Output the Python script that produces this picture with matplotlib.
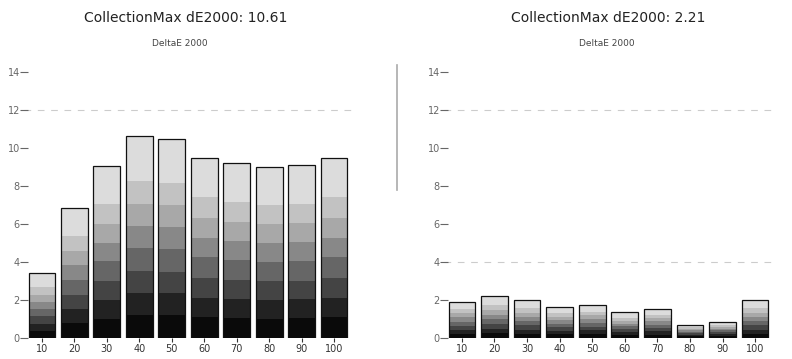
import numpy as np
import matplotlib
matplotlib.use("Agg")
import matplotlib.pyplot as plt
from matplotlib.colors import LinearSegmentedColormap

categories = ["10", "20", "30", "40", "50", "60", "70", "80", "90", "100"]
left_values = [3.4, 6.85, 9.05, 10.61, 10.5, 9.5, 9.2, 9.0, 9.1, 9.5]
right_values = [1.9, 2.21, 2.0, 1.65, 1.75, 1.35, 1.55, 0.7, 0.85, 2.0]
left_title = "CollectionMax dE2000: 10.61"
right_title = "CollectionMax dE2000: 2.21"
subtitle = "DeltaE 2000"
yticks = [0, 2, 4, 6, 8, 10, 12, 14]

cmap = LinearSegmentedColormap.from_list(
    "g", ["#0a0a0a", "#222222", "#444444", "#666666", "#888888", "#a8a8a8", "#c2c2c2", "#dcdcdc", "#dcdcdc"], N=9)
grad = np.linspace(0, 1, 256).reshape(-1, 1)

fig = plt.figure(figsize=(7.92, 3.59), dpi=100)


def panel(rect, values, title, title_x, sub_x, extra_grid):
    ax = fig.add_axes(rect)
    x = np.arange(len(categories))
    bars = ax.bar(x, values, width=0.82, color="none", edgecolor="#111111", linewidth=0.9, zorder=3)
    for b in bars:
        x0, w, h = b.get_x(), b.get_width(), b.get_height()
        im = ax.imshow(grad, extent=[x0, x0 + w, 0, h], origin="lower", cmap=cmap,
                       aspect="auto", zorder=2, interpolation="nearest")
        im.set_clip_path(b)
    ax.set_xlim(-0.55, len(categories) - 0.45)
    ax.set_ylim(0, 14)
    ax.set_yticks(yticks)
    ax.set_xticks(x)
    ax.set_xticklabels(categories)
    for g in [12] + extra_grid:
        ax.axhline(g, color="#cccccc", linestyle=(0, (6, 6)), linewidth=0.8, zorder=1)
    for s in ax.spines.values():
        s.set_visible(False)
    ax.tick_params(axis="y", labelsize=7, colors="#666666", length=6, width=0.8, direction="inout",
                   pad=0)
    ax.tick_params(axis="x", labelsize=7, colors="#333333", length=3, pad=1)
    fig.text(sub_x / 792, 1 - 44 / 359, subtitle, ha="center", va="center",
             fontsize=6.5, color="#444444")
    fig.text(title_x / 792, 1 - 18 / 359, title, ha="center", va="center",
             fontsize=10, color="#222222")
    return ax


panel([24 / 792, 21 / 359, 328 / 792, 266 / 359], left_values, left_title, 186, 180, [])
panel([444 / 792, 21 / 359, 329 / 792, 266 / 359], right_values, right_title, 608, 607, [4])
fig.add_artist(plt.Line2D([397 / 792, 397 / 792], [1 - 65 / 359, 1 - 190 / 359],
                          color="#aaaaaa", linewidth=1.2, transform=fig.transFigure))
fig.savefig("out.png", dpi=100)
